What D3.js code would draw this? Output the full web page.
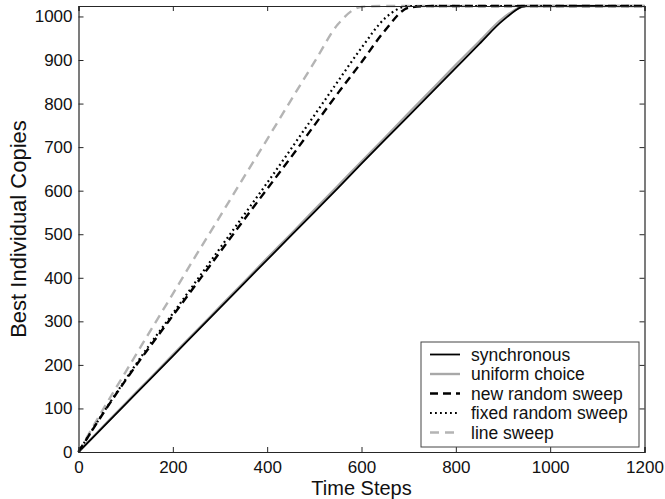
<!DOCTYPE html>
<html>
<head>
<meta charset="utf-8">
<script src="https://cdn.jsdelivr.net/npm/d3@7"></script>
<style>
  html, body { margin: 0; padding: 0; background: #fff; }
  svg { display: block; font-family: "Liberation Sans", Arial, sans-serif; }
</style>
</head>
<body>
<svg id="chart" width="665" height="499"></svg>
<script>
// Time axis sample points shared by all series
const timeSteps = [0, 50, 100, 150, 200, 250, 300, 350, 400, 450, 500, 550, 600,
  650, 700, 750, 800, 850, 900, 950, 1000, 1050, 1100, 1150, 1200];

// Copies of the best individual for each update scheme
const synchronous = [0, 55, 110, 165, 220, 276, 331, 386, 441, 496, 551, 606, 662,
  717, 772, 827, 882, 937, 991, 1024, 1024, 1024, 1024, 1024, 1024];
const uniformChoice = [0, 56, 112, 167, 223, 278, 334, 389, 445, 500, 556, 611, 667,
  722, 778, 833, 889, 943, 996, 1024, 1024, 1024, 1024, 1024, 1024];
const newRandomSweep = [0, 85, 165, 240, 313, 386, 459, 532, 604, 676, 750, 824, 895,
  968, 1020, 1024, 1024, 1024, 1024, 1024, 1024, 1024, 1024, 1024, 1024];
const fixedRandomSweep = [0, 86, 167, 245, 318, 393, 468, 543, 618, 695, 773, 851, 928,
  996, 1024, 1024, 1024, 1024, 1024, 1024, 1024, 1024, 1024, 1024, 1024];
const lineSweep = [0, 94, 184, 274, 363, 453, 541, 630, 718, 807, 895, 982, 1022,
  1024, 1024, 1024, 1024, 1024, 1024, 1024, 1024, 1024, 1024, 1024, 1024];

const seriesNames = ["synchronous", "uniform choice", "new random sweep",
  "fixed random sweep", "line sweep"];
const seriesValues = [synchronous, uniformChoice, newRandomSweep, fixedRandomSweep, lineSweep];

const xTicks = [0, 200, 400, 600, 800, 1000, 1200];
const yTicks = [0, 100, 200, 300, 400, 500, 600, 700, 800, 900, 1000];

// Stroke styles per series
const styles = [
  { color: "#000000", width: 1.8, dash: null },
  { color: "#a8a8a8", width: 2.4, dash: null },
  { color: "#000000", width: 2.4, dash: "8,5" },
  { color: "#000000", width: 2.2, dash: "1.8,3.2" },
  { color: "#b4b4b4", width: 2.4, dash: "9,6" }
];

const svg = d3.select("#chart");
const plotLeft = 78.5, plotRight = 644.5, plotTop = 6, plotBottom = 452;

const x = d3.scaleLinear().domain([0, 1200]).range([plotLeft, plotRight]);
const y = d3.scaleLinear().domain([0, 1024]).range([plotBottom, plotTop]);

const line = d3.line()
  .x((d, i) => x(timeSteps[i]))
  .y(d => y(d))
  .curve(d3.curveMonotoneX);

// Series, drawn so the synchronous line sits above the uniform choice line
const order = [1, 0, 4, 2, 3];
const plot = svg.append("g");
order.forEach(k => {
  plot.append("path")
    .datum(seriesValues[k])
    .attr("d", line)
    .attr("fill", "none")
    .attr("stroke", styles[k].color)
    .attr("stroke-width", styles[k].width)
    .attr("stroke-dasharray", styles[k].dash)
    .attr("stroke-linecap", "butt");
});

// Axes with inward ticks, mirrored on the top and right edges
const tickLen = 5;
const axisColor = "#262626";
const xAxis = svg.append("g").attr("transform", `translate(0,${plotBottom})`)
  .call(d3.axisBottom(x).tickValues(xTicks).tickSize(-tickLen).tickPadding(9).tickFormat(d3.format("d")));
const yAxis = svg.append("g").attr("transform", `translate(${plotLeft},0)`)
  .call(d3.axisLeft(y).tickValues(yTicks).tickSize(-tickLen).tickPadding(6).tickFormat(d3.format("d")));
const xTop = svg.append("g").attr("transform", `translate(0,${plotTop})`)
  .call(d3.axisTop(x).tickValues(xTicks).tickSize(-tickLen).tickFormat(""));
const yRight = svg.append("g").attr("transform", `translate(${plotRight},0)`)
  .call(d3.axisRight(y).tickValues(yTicks).tickSize(-tickLen).tickFormat(""));

[xAxis, yAxis, xTop, yRight].forEach(g => {
  g.select(".domain").attr("stroke", axisColor).attr("stroke-width", 1.2);
  g.selectAll(".tick line").attr("stroke", axisColor).attr("stroke-width", 1);
  g.selectAll(".tick text").attr("fill", "#111").style("font-size", "17px")
    .style("font-family", "'Liberation Sans', Arial, sans-serif");
});
xAxis.selectAll(".tick text").attr("dy", "0.71em");

// Axis titles
svg.append("text")
  .attr("x", (plotLeft + plotRight) / 2).attr("y", 495)
  .attr("text-anchor", "middle")
  .style("font-size", "20px").attr("fill", "#111")
  .text("Time Steps");
svg.append("text")
  .attr("transform", `translate(26,${(plotTop + plotBottom) / 2}) rotate(-90)`)
  .attr("text-anchor", "middle")
  .style("font-size", "22px").attr("fill", "#111")
  .text("Best Individual Copies");

// Legend
const legend = svg.append("g");
legend.append("rect")
  .attr("x", 421).attr("y", 342).attr("width", 218).attr("height", 105)
  .attr("fill", "#fff").attr("stroke", "#444").attr("stroke-width", 1);
seriesNames.forEach((name, k) => {
  const yy = 354.5 + k * 19.5;
  legend.append("line")
    .attr("x1", 430).attr("x2", 460).attr("y1", yy).attr("y2", yy)
    .attr("stroke", styles[k].color)
    .attr("stroke-width", styles[k].width)
    .attr("stroke-dasharray", styles[k].dash);
  legend.append("text")
    .attr("x", 471).attr("y", yy).attr("dy", "0.35em")
    .style("font-size", "17.5px").attr("fill", "#111")
    .text(name);
});
</script>
</body>
</html>
